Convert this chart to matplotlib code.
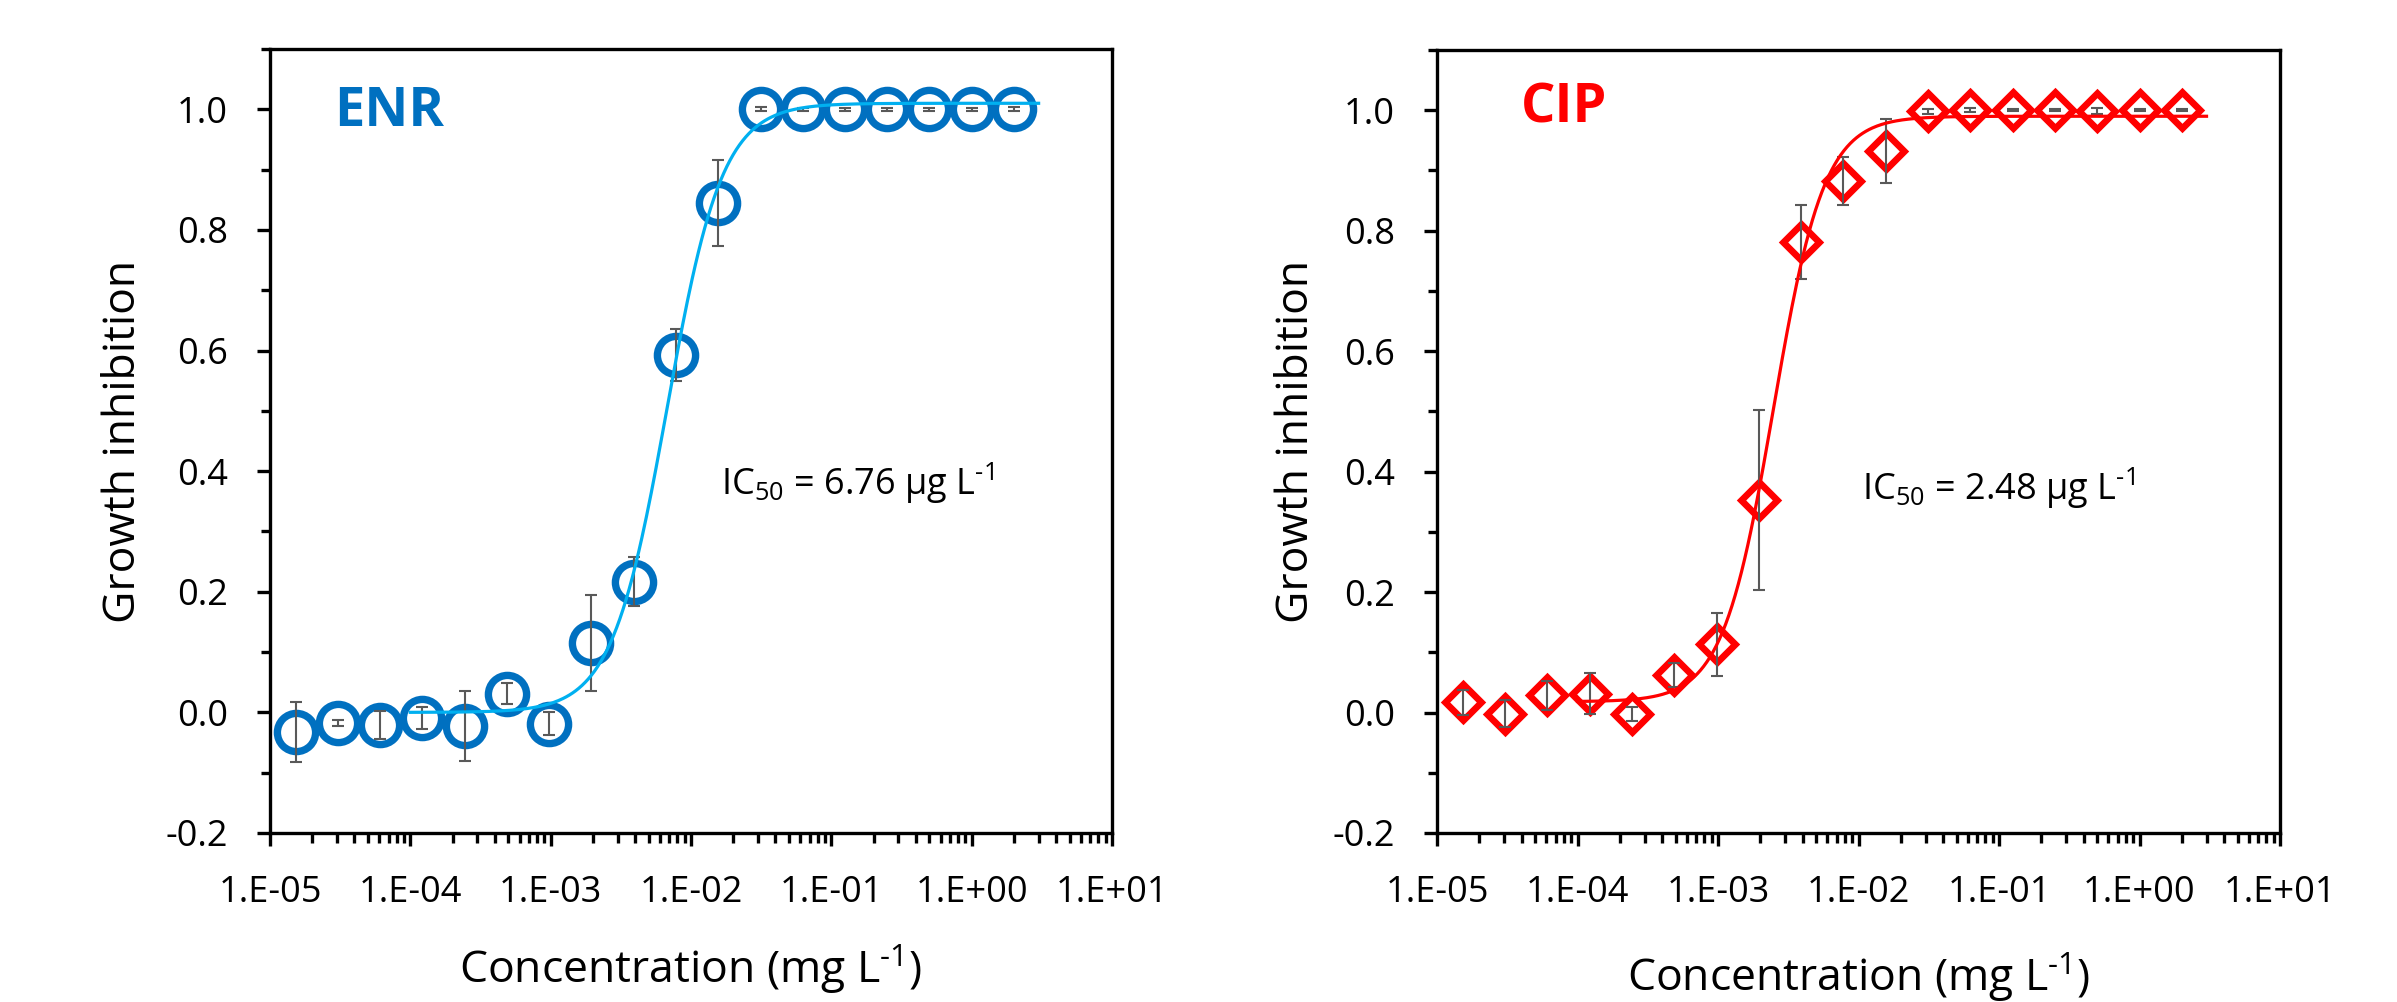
import numpy as np
import matplotlib
matplotlib.use("Agg")
import matplotlib.pyplot as plt
from matplotlib.ticker import FixedLocator, FuncFormatter, LogLocator, NullFormatter

plt.rcParams["font.family"] = "Open Sans"
plt.rcParams["mathtext.fontset"] = "custom"
plt.rcParams["mathtext.rm"] = "Open Sans"
plt.rcParams["mathtext.it"] = "Open Sans:italic"
plt.rcParams["mathtext.bf"] = "Open Sans:bold"
plt.rcParams["axes.unicode_minus"] = False

# two-fold dilution series (mg/L)
conc = [1.53e-5, 3.05e-5, 6.10e-5, 1.22e-4, 2.44e-4, 4.88e-4, 9.77e-4,
        1.95e-3, 3.91e-3, 7.81e-3, 1.56e-2, 3.13e-2, 6.25e-2, 0.125,
        0.25, 0.5, 1.0, 2.0]

# enrofloxacin
enr_mean = [-0.033, -0.018, -0.021, -0.009, -0.023, 0.031, -0.019, 0.115,
            0.217, 0.592, 0.845, 1.0, 1.0, 1.0, 1.0, 1.0, 1.0, 1.0]
enr_sd = [0.050, 0.005, 0.023, 0.018, 0.058, 0.017, 0.019, 0.079, 0.041,
          0.043, 0.071, 0.003, 0.002, 0.002, 0.002, 0.002, 0.002, 0.003]

# ciprofloxacin
cip_mean = [0.017, -0.002, 0.029, 0.031, -0.002, 0.062, 0.113, 0.353,
            0.781, 0.883, 0.932, 0.998, 1.0, 1.0, 1.0, 0.999, 1.0, 1.0]
cip_sd = [0.021, 0.022, 0.024, 0.034, 0.012, 0.020, 0.053, 0.150, 0.061,
          0.040, 0.053, 0.004, 0.003, 0.002, 0.002, 0.005, 0.002, 0.002]

# Hill fit parameters: bottom, top, IC50 (mg/L), slope
enr_fit = (0.0, 1.01, 6.76e-3, 2.2)
cip_fit = (0.018, 0.99, 2.48e-3, 2.4)
fit_range = (1e-4, 3.0)

x_major = [1e-5, 1e-4, 1e-3, 1e-2, 1e-1, 1e0, 1e1]
y_major = [-0.2, 0.0, 0.2, 0.4, 0.6, 0.8, 1.0]
y_minor = [-0.1, 0.1, 0.3, 0.5, 0.7, 0.9, 1.1]


def hill(x, bottom, top, ic50, n):
    return bottom + (top - bottom) / (1 + (ic50 / x) ** n)


def style_axis(ax):
    ax.set_xscale("log")
    ax.set_xlim(1e-5, 1e1)
    ax.set_ylim(-0.2, 1.1)
    ax.xaxis.set_major_locator(FixedLocator(x_major))
    ax.xaxis.set_major_formatter(
        FuncFormatter(lambda v, p: "1.E%+03d" % round(np.log10(v))))
    ax.xaxis.set_minor_locator(LogLocator(base=10, subs=range(2, 10)))
    ax.xaxis.set_minor_formatter(NullFormatter())
    ax.yaxis.set_major_locator(FixedLocator(y_major))
    ax.yaxis.set_minor_locator(FixedLocator(y_minor))
    ax.yaxis.set_major_formatter(FuncFormatter(lambda v, p: "%.1f" % v))
    for s in ax.spines.values():
        s.set_linewidth(2.4)
    ax.tick_params(which="major", direction="out", length=9.5, width=2.4,
                   labelsize=26, pad=21)
    ax.tick_params(which="minor", direction="out", length=6.5, width=2.4)
    ax.tick_params(axis="x", which="minor", length=7)


def draw_panel(ax, mean, sd, fit, marker, mcolor, lcolor, ms, mew):
    ax.plot(conc, mean, marker, ls="none", mfc="none", mec=mcolor, ms=ms,
            mew=mew, zorder=3)
    ax.errorbar(conc, mean, yerr=sd, fmt="none", ecolor="#595959",
                elinewidth=1.5, capsize=4.3, capthick=1.5, zorder=4)
    xs = np.logspace(np.log10(fit_range[0]), np.log10(fit_range[1]), 400)
    ax.plot(xs, hill(xs, *fit), color=lcolor, lw=2.3, zorder=5)


fig = plt.figure(figsize=(23.97, 10.02), dpi=100)
ax1 = fig.add_axes([270 / 2397, 1 - 833 / 1002, 842 / 2397, 784 / 1002])
ax2 = fig.add_axes([1437 / 2397, 1 - 833 / 1002, 843 / 2397, 783 / 1002])

draw_panel(ax1, enr_mean, enr_sd, enr_fit, "o", "#0070C0", "#00B0F0", 27.5, 5.3)
draw_panel(ax2, cip_mean, cip_sd, cip_fit, "D", "#FF0000", "#FF0000", 18.5, 4.8)

for ax in (ax1, ax2):
    style_axis(ax)
    ax.set_ylabel("Growth inhibition", fontsize=32)
    ax.set_xlabel(r"Concentration (mg L$^{\text{-1}}$)", fontsize=32)

ax1.yaxis.set_label_coords(-0.147, 0.5)
ax2.yaxis.set_label_coords(-0.140, 0.5)
ax1.xaxis.set_label_coords(0.5, -0.140)
ax2.xaxis.set_label_coords(0.5, -0.150)

ax1.text(0.076, 0.902, "ENR", transform=ax1.transAxes, fontsize=39,
         fontweight="bold", color="#0070C0", va="baseline")
ax2.text(0.100, 0.907, "CIP", transform=ax2.transAxes, fontsize=39,
         fontweight="bold", color="#FF0000", va="baseline")

ic_fmt = r"IC$_{50}$ = %.2f µg L$^{\text{-1}}$"
ax1.text(0.536, 0.4315, ic_fmt % (enr_fit[2] * 1000),
         transform=ax1.transAxes, fontsize=26, va="baseline")
ax2.text(0.504, 0.4254, ic_fmt % (cip_fit[2] * 1000),
         transform=ax2.transAxes, fontsize=26, va="baseline")

fig.savefig("out.png", dpi=100)
